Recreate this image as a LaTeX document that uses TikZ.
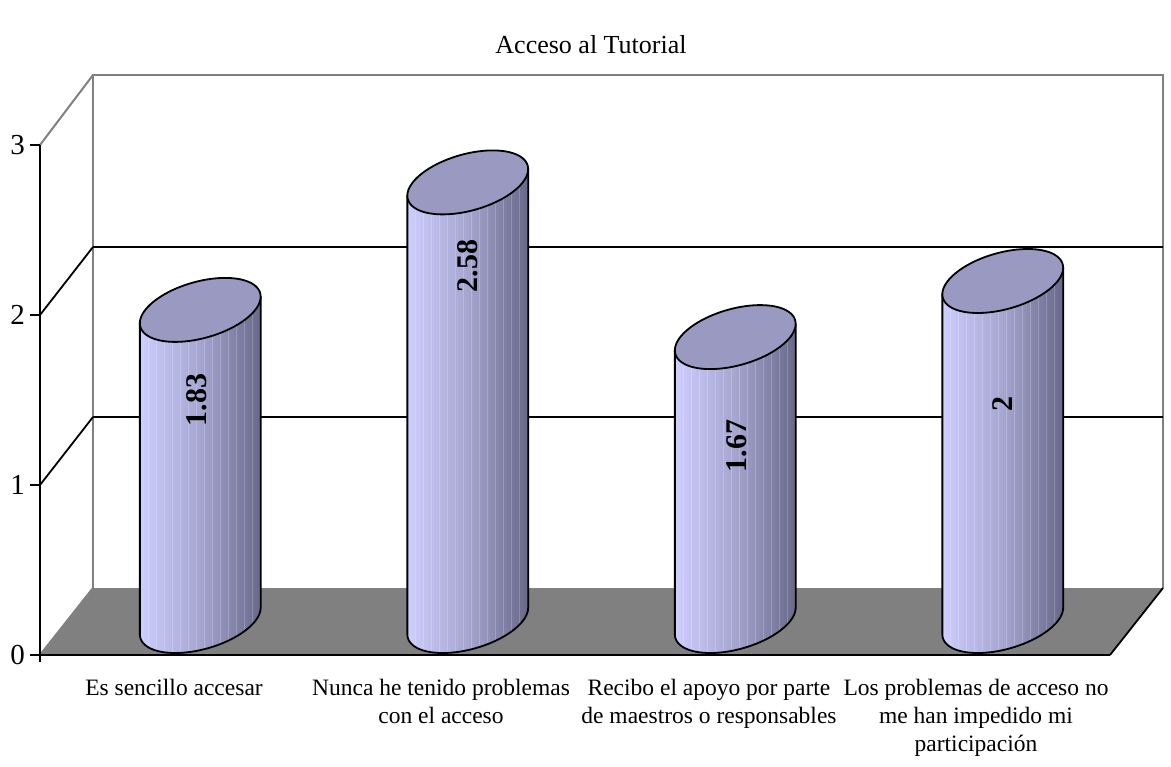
\documentclass[tikz,border=0pt]{standalone}
\usepackage{fontspec}
\setmainfont{Liberation Serif}
\definecolor{floorgray}{RGB}{128,128,128}
\definecolor{wallgray}{RGB}{128,128,128}
\definecolor{cylL}{RGB}{206,206,255}
\definecolor{cylM}{RGB}{165,165,208}
\definecolor{cylR}{RGB}{104,104,138}
\definecolor{cyltop}{RGB}{153,153,193}
\begin{document}
\begin{tikzpicture}[x=1pt,y=-1pt,
  wallline/.style={draw=wallgray,line width=2pt},
  gridline/.style={draw=black,line width=1.8pt},
  axisline/.style={draw=black,line width=2.4pt},
  cyledge/.style={draw=black,line width=1.8pt},
  ticklabel/.style={font=\fontsize{29}{30}\selectfont,anchor=east,inner sep=0pt},
  catlabel/.style={font=\fontsize{23.5}{28}\selectfont,align=center,anchor=north,inner sep=0pt},
  vallabel/.style={font=\fontsize{30}{32}\selectfont\bfseries,rotate=90,inner sep=0pt},
  titlestyle/.style={font=\fontsize{26}{28}\selectfont,inner sep=0pt}]
\useasboundingbox (0,0) rectangle (1171,767);
% floor
\coordinate (F1) at (40,655);
\coordinate (F2) at (93,588);
\coordinate (F3) at (1163,588);
\coordinate (F4) at (1110,655);
\fill[floorgray] (F1) -- (F2) -- (F3) -- (F4) -- cycle;
\draw[wallline] (F1) -- (F2);
% back wall
\coordinate (B0) at (93,75);
\coordinate (B1) at (1163,75);
\draw[wallline] (F2) -- (B0) -- (B1) -- (F3);
\draw[gridline] (93,247) -- (1163,247);
\draw[gridline] (93,417) -- (1163,417);
% side wall
\coordinate (A3) at (40,145);
\coordinate (A2) at (40,315);
\coordinate (A1) at (40,485);
\coordinate (A0) at (40,655);
\draw[wallline] (A3) -- (B0);
\draw[gridline] (A2) -- (93,247);
\draw[gridline] (A1) -- (93,417);
% floor edges
\draw[axisline] (F1) -- (F4);
\draw[line width=1.8pt] (F4) -- (F3);
% vertical axis
\coordinate (Abot) at (40,662);
\draw[axisline] (A3) -- (Abot);
\foreach \v/\yy in {0/655,1/485,2/315,3/145}{
  \draw[line width=2pt] (30,\yy) -- (40,\yy);
  \node[ticklabel] (tick\v) at (25,\yy) {\v};
}
% cylinders
\foreach \i/\cx/\val in {1/200.25/1.83, 2/467.75/2.58, 3/735.25/1.67, 4/1002.75/2}{
  \pgfmathsetmacro{\base}{621}
  \pgfmathsetmacro{\top}{621-170*\val}
  \path[left color=cylL, right color=cylR, middle color=cylM]
    plot[variable=\t,domain=204.44:384.44,samples=60] ({\cx+55*cos(\t)+25*sin(\t)},{\top-32*sin(\t)})
    -- plot[variable=\t,domain=384.44:204.44,samples=60] ({\cx+55*cos(\t)+25*sin(\t)},{\base-32*sin(\t)})
    -- cycle;
  \begin{scope}
    \clip plot[variable=\t,domain=204.44:384.44,samples=60] ({\cx+55*cos(\t)+25*sin(\t)},{\top-32*sin(\t)})
    -- plot[variable=\t,domain=384.44:204.44,samples=60] ({\cx+55*cos(\t)+25*sin(\t)},{\base-32*sin(\t)})
    -- cycle;
    \foreach \d in {-52,-44,...,56}{
      \draw[white,opacity=0.2,line width=0.7pt] (\cx+\d,\top-60) -- (\cx+\d,\base+60);
    }
  \end{scope}
  \draw[cyledge,line join=round]
    ({\cx-60.4},{\top+13.24}) -- ({\cx-60.4},{\base+13.24})
    plot[variable=\t,domain=204.44:384.44,samples=60] ({\cx+55*cos(\t)+25*sin(\t)},{\base-32*sin(\t)})
    -- ({\cx+60.4},{\top-13.24});
  \draw[cyledge,fill=cyltop]
    plot[variable=\t,domain=0:360,samples=90,smooth] ({\cx+55*cos(\t)+25*sin(\t)},{\top-32*sin(\t)}) -- cycle;
}
% value labels
\node[vallabel] (v1) at (197,400) {1.83};
\node[vallabel] (v2) at (468,266) {2.58};
\node[vallabel] (v3) at (737,446) {1.67};
\node[vallabel] (v4) at (1003,404) {2};
% category labels
\node[catlabel] (c1) at (174,679) {Es sencillo accesar};
\node[catlabel] (c2) at (441,679) {Nunca he tenido problemas\\con el acceso};
\node[catlabel] (c3) at (709,679) {Recibo el apoyo por parte\\de maestros o responsables};
\node[catlabel] (c4) at (976,679) {Los problemas de acceso no\\me han impedido mi\\participación};
% title
\node[titlestyle] (title) at (591,45) {Acceso al Tutorial};
\end{tikzpicture}
\end{document}
